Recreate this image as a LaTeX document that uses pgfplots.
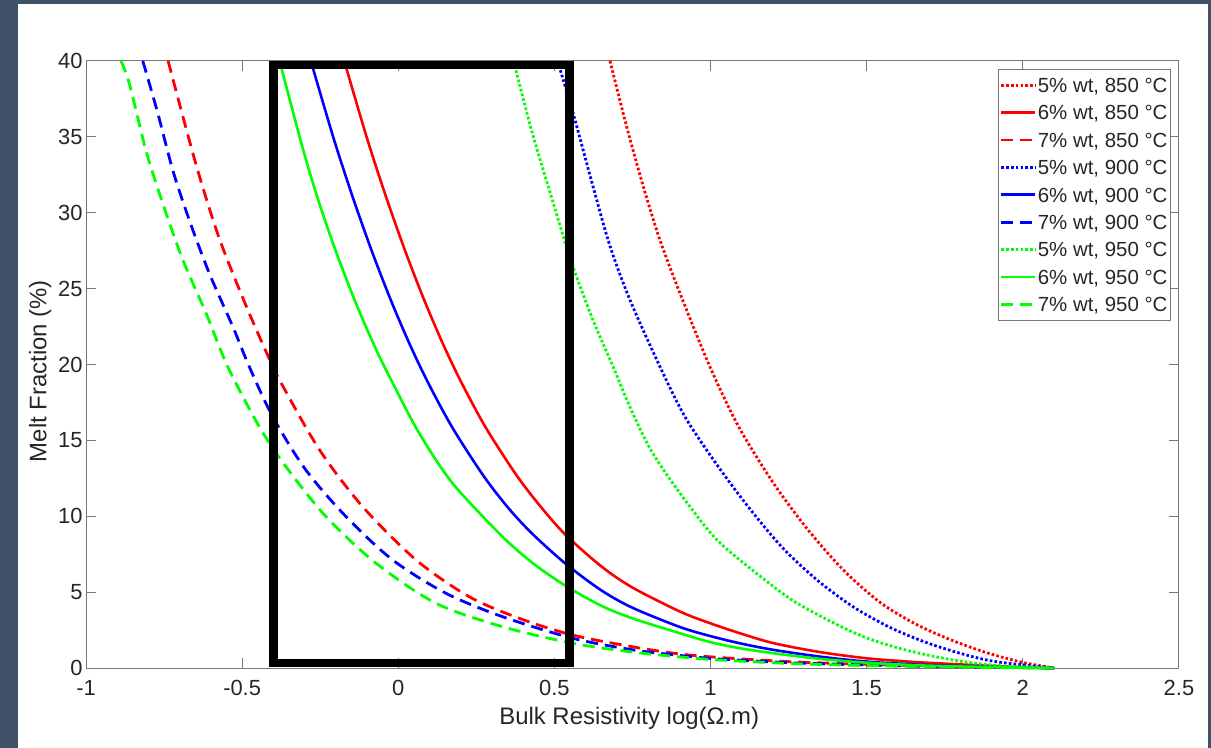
\documentclass[border=0pt]{standalone}
\usepackage{pgfplots}
\pgfplotsset{compat=1.18}
\usepackage{fontspec}
\setmainfont{Liberation Sans}
\definecolor{frame}{RGB}{64,82,104}
\definecolor{axgray}{RGB}{120,120,120}
\definecolor{txt}{RGB}{38,38,38}
\definecolor{mred}{RGB}{255,0,0}
\definecolor{mblue}{RGB}{0,0,255}
\definecolor{mgreen}{RGB}{0,255,0}

\pgfplotsset{
  dotline/.style={line width=2.8bp, dash pattern=on 2.6bp off 2.2bp, smooth, tension=0.5},
  solidline/.style={line width=2.6bp, smooth, tension=0.5},
  dashline/.style={line width=2.8bp, dash pattern=on 12bp off 7bp, smooth, tension=0.5},
}

\begin{document}
\begin{tikzpicture}
% dark screenshot frame
\fill[frame] (0,0) rectangle (1211bp,748bp);
\fill[white] (18bp,0) rectangle (1208bp,744bp);
\begin{axis}[
    at={(86bp,80bp)}, anchor=south west,
    scale only axis, width=1093bp, height=607bp,
    xmin=-1, xmax=2.5, ymin=0, ymax=40,
    clip=false,
    xtick={-1,-0.5,0,0.5,1,1.5,2,2.5},
    xticklabels={-1,-0.5,0,0.5,1,1.5,2,2.5},
    ytick={0,5,10,15,20,25,30,35,40},
    yticklabels={0,5,10,15,20,25,30,35,40},
    tick align=inside, major tick length=10bp,
    axis line style={axgray, line width=1bp},
    every tick/.style={axgray, line width=1bp},
    tick label style={font=\fontsize{22}{24}\selectfont, text=txt},
    xticklabel style={yshift=-9bp},
    label style={font=\fontsize{24}{26}\selectfont, text=txt},
    xlabel={Bulk Resistivity log(Ω.m)},
    ylabel={Melt Fraction (\%)},
    xlabel style={at={(axis description cs:0.497,-0.0824)}, anchor=center},
    ylabel style={at={(axis description cs:-0.0420,0.489)}, anchor=center},
    legend style={at={(axis description cs:1,1)}, anchor=north east,
        xshift=-8bp, yshift=-8bp, draw=axgray, line width=1bp,
        font=\fontsize{20.5}{22}\selectfont, text=txt,
        inner xsep=2bp, inner ysep=2bp, row sep=0bp,
        nodes={inner xsep=1bp, inner ysep=0bp, text height=21bp, text depth=6.4bp}},
    legend cell align=left,
    legend image code/.code={\draw[#1] (0bp,0bp) -- (34bp,0bp);},
]
% 850 C
\addplot[mred, dotline] coordinates {
 (0.678,40) (0.731,35.7) (0.785,31.7) (0.838,28.2) (0.902,24.7) (0.998,19.85)
 (1.090,15.9) (1.204,12.1) (1.318,8.95) (1.433,6.3) (1.547,4.26) (1.661,2.85)
 (1.776,1.8) (1.890,0.97) (2.004,0.35) (2.10,0)};
\addlegendentry{5\% wt, 850 °C}
\addplot[mred, solidline] coordinates {
 (-0.173,40) (-0.10,34.9) (-0.04,31.1) (0.02,27.6) (0.08,24.4) (0.14,21.5)
 (0.20,18.9) (0.28,15.85) (0.38,12.66) (0.46,10.53) (0.537,8.75) (0.65,6.7)
 (0.75,5.3) (0.902,3.72) (1.0,2.94) (1.1,2.25) (1.203,1.63) (1.35,1.05)
 (1.50,0.64) (1.65,0.40) (1.776,0.26) (1.95,0.09) (2.10,0)};
\addlegendentry{6\% wt, 850 °C}
\addplot[mred, dashline] coordinates {
 (-0.737,40) (-0.648,33.2) (-0.573,28.3) (-0.488,23.9) (-0.418,20.6) (-0.381,19.0)
 (-0.253,14.4) (-0.114,10.63) (0.057,7.12) (0.227,4.7) (0.388,3.27) (0.558,2.17)
 (0.75,1.4) (0.891,0.95) (1.01,0.72) (1.25,0.42) (1.5,0.24) (1.75,0.11) (1.95,0.04) (2.1,0)};
\addlegendentry{7\% wt, 850 °C}
% 900 C
\addplot[mblue, dotline] coordinates {
 (0.510,40) (0.560,36.55) (0.624,31.7) (0.678,27.8) (0.742,24.25) (0.838,19.85)
 (0.918,16.56) (1.010,13.7) (1.112,10.85) (1.227,8.0) (1.341,5.8) (1.456,4.04)
 (1.570,2.72) (1.684,1.73) (1.799,0.97) (1.913,0.42) (2.10,0)};
\addlegendentry{5\% wt, 900 °C}
\addplot[mblue, solidline] coordinates {
 (-0.280,40) (-0.207,34.9) (-0.147,31.1) (-0.087,27.6) (-0.027,24.4) (0.033,21.5)
 (0.093,18.9) (0.173,15.85) (0.273,12.66) (0.353,10.53) (0.43,8.83) (0.537,6.85)
 (0.65,5.12) (0.75,3.97) (0.902,2.7) (1.0,2.1) (1.1,1.6) (1.203,1.19) (1.35,0.75)
 (1.5,0.42) (1.65,0.24) (1.776,0.14) (1.95,0.05) (2.1,0)};
\addlegendentry{6\% wt, 900 °C}
\addplot[mblue, dashline] coordinates {
 (-0.818,40) (-0.770,36.55) (-0.722,32.8) (-0.669,29.5) (-0.605,26.0) (-0.530,22.5)
 (-0.477,19.85) (-0.402,16.56) (-0.296,13.05) (-0.167,9.97) (-0.018,7.12) (0.153,4.92)
 (0.334,3.38) (0.558,1.96) (0.75,1.2) (0.891,0.85) (1.01,0.62) (1.25,0.35) (1.5,0.2)
 (1.75,0.09) (1.95,0.03) (2.1,0)};
\addlegendentry{7\% wt, 900 °C}
% 950 C
\addplot[mgreen, dotline] coordinates {
 (0.369,40) (0.430,35.2) (0.494,30.8) (0.526,28.6) (0.560,26.4) (0.624,22.9)
 (0.688,19.85) (0.746,17.0) (0.815,14.15) (0.918,11.07) (1.021,8.43) (1.147,6.24)
 (1.261,4.48) (1.376,3.16) (1.490,2.06) (1.604,1.30) (1.719,0.75) (1.833,0.35)
 (1.95,0.12) (2.10,0)};
\addlegendentry{5\% wt, 950 °C}
\addplot[mgreen, solidline] coordinates {
 (-0.380,40) (-0.304,34.1) (-0.251,30.5) (-0.197,27.3) (-0.133,23.9) (-0.069,20.9)
 (-0.011,18.5) (0.067,15.47) (0.174,12.17) (0.334,8.65) (0.434,6.86) (0.537,5.4)
 (0.65,4.1) (0.75,3.27) (0.902,2.29) (1.0,1.7) (1.1,1.28) (1.203,0.97) (1.35,0.6)
 (1.50,0.35) (1.65,0.19) (1.776,0.11) (1.95,0.04) (2.1,0)};
\addlegendentry{6\% wt, 950 °C}
\addplot[mgreen, dashline] coordinates {
 (-0.888,40) (-0.861,38.5) (-0.808,34.1) (-0.754,30.6) (-0.690,26.9) (-0.616,23.4)
 (-0.546,19.85) (-0.445,15.9) (-0.360,13.27) (-0.231,9.97) (-0.071,6.9) (0.121,4.26)
 (0.334,2.72) (0.558,1.63) (0.75,1.05) (0.891,0.75) (1.01,0.55) (1.25,0.3) (1.5,0.16)
 (1.75,0.07) (1.95,0.02) (2.1,0)};
\addlegendentry{7\% wt, 950 °C}
% highlighted window
\draw[black, line width=8.3bp, line join=miter]
  (axis cs:-0.40,0.33) rectangle (axis cs:0.548,39.75);
\end{axis}
\end{tikzpicture}
\end{document}
